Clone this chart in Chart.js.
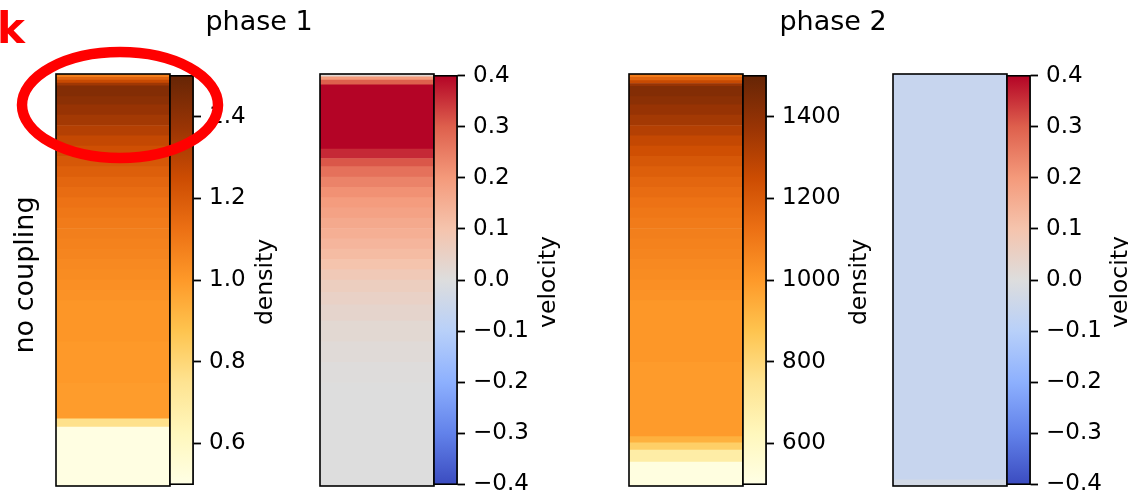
<!doctype html>
<html lang="en">
<head>
  <meta charset="utf-8">
  <title>no coupling: phase 1 / phase 2</title>
  <script src="https://cdn.jsdelivr.net/npm/chart.js@4"></script>
  <style>
    html, body { margin: 0; padding: 0; background: #fff; }
    #fig { position: relative; width: 1128px; height: 497px; overflow: hidden; }
    #fig canvas { position: absolute; }
    #overlay { position: absolute; left: 0; top: 0; pointer-events: none; }
    #overlay text { font-family: 'DejaVu Sans', sans-serif; fill: #000; }
  </style>
</head>
<body>
<div id="fig">
  <svg id="overlay" width="1128" height="497">
    <text x="-3" y="43" font-size="42" font-weight="bold" style="fill:#ff0000">k</text>
    <text x="259" y="30" font-size="27" text-anchor="middle">phase 1</text>
    <text x="833" y="30" font-size="27" text-anchor="middle">phase 2</text>
    <text transform="translate(33,275) rotate(-90)" font-size="27" text-anchor="middle">no coupling</text>
    <text transform="translate(272,282) rotate(-90)" font-size="23.5" text-anchor="middle">density</text>
    <text transform="translate(555,282) rotate(-90)" font-size="23.5" text-anchor="middle">velocity</text>
    <text transform="translate(866,282) rotate(-90)" font-size="23.5" text-anchor="middle">density</text>
    <text transform="translate(1127,282) rotate(-90)" font-size="23.5" text-anchor="middle">velocity</text>
    <ellipse cx="120" cy="105" rx="98" ry="53" fill="none" stroke="#ff0000" stroke-width="10.5"/>
  </svg>
</div>
<script>
  // height along the column, percent from the bottom; one value per cell between two edges
  const density1Edges = [0, 14.3, 16.3, 25, 35, 45, 47.5, 50, 52.5, 55, 57.5, 60, 62.5, 65, 67.5, 70, 72.5, 75, 77.5, 80,
    82.5, 85, 87.5, 90, 92.5, 94.5, 97.1, 97.8, 98.5, 99.2, 100]
  const density1Values = [0.51, 0.76, 0.99, 1.0, 1.01, 1.02, 1.03, 1.04, 1.05, 1.06, 1.07, 1.08, 1.09, 1.105, 1.12,
    1.14, 1.16, 1.185, 1.21, 1.24, 1.27, 1.31, 1.35, 1.38, 1.41, 1.43, 1.36, 1.26, 1.17, 1.08]

  const velocity1Edges = [0, 25, 30, 35, 40, 44, 47, 50, 52.5, 55, 57.5, 60, 62.5, 65, 67.5, 70, 72.5, 75, 77.5, 79.5,
    81.8, 97.4, 98.5, 99.3, 100]
  const velocity1Values = [0.0, 0.005, 0.012, 0.022, 0.035, 0.048, 0.062, 0.08, 0.1, 0.12, 0.135, 0.15, 0.165, 0.18,
    0.195, 0.215, 0.24, 0.27, 0.31, 0.36, 0.4, 0.3, 0.2, 0.02]

  const density2Edges = [0, 5.8, 8.7, 10.5, 12, 30, 45, 47.5, 50, 52.5, 55, 57.5, 60, 62.5, 65, 67.5, 70, 72.5, 75, 77.5,
    80, 82.5, 85, 87.5, 90, 92.5, 94.5, 97, 97.7, 98.4, 99.2, 100]
  const density2Values = [515, 690, 830, 930, 995, 1005, 1020, 1030, 1040, 1050, 1060, 1070, 1080, 1090, 1105, 1120,
    1140, 1160, 1185, 1210, 1240, 1270, 1310, 1350, 1380, 1410, 1430, 1380, 1260, 1170, 1090]

  const velocity2Edges = [0, 1.5, 100]
  const velocity2Values = [-0.03, -0.06]

  const density1Ticks = [0.6, 0.8, 1.0, 1.2, 1.4]
  const density2Ticks = [600, 800, 1000, 1200, 1400]
  const velocityTicks = [-0.4, -0.3, -0.2, -0.1, 0.0, 0.1, 0.2, 0.3, 0.4]

  const YLORBR = ['#ffffe5', '#fff7bc', '#fee391', '#fec44f', '#fe9929', '#ec7014', '#cc4c02', '#993404', '#662506']
  const COOLWARM = ['#3b4cc0', '#6282ea', '#8db0fe', '#b8d0f9', '#dddddd', '#f5c4ad', '#f49a7b', '#de604d', '#b40426']

  Chart.defaults.font.family = "'DejaVu Sans', sans-serif"

  function colormap(hexes) {
    const rgb = hexes.map(h => [1, 3, 5].map(i => parseInt(h.slice(i, i + 2), 16)))
    return t => {
      t = Math.min(1, Math.max(0, t))
      const s = t * (rgb.length - 1)
      const i = Math.min(Math.floor(s), rgb.length - 2)
      const f = s - i
      const c = rgb[i].map((v, k) => Math.round(v + (rgb[i + 1][k] - v) * f))
      return `rgb(${c[0]},${c[1]},${c[2]})`
    }
  }

  const frame = {
    id: 'frame',
    afterDraw(chart) {
      const { ctx, chartArea: a } = chart
      ctx.save()
      ctx.strokeStyle = '#000'
      ctx.lineWidth = 1.6
      ctx.strokeRect(a.left, a.top, a.right - a.left, a.bottom - a.top)
      ctx.restore()
    }
  }

  function addCanvas(left, top, w, h) {
    const c = document.createElement('canvas')
    c.width = w
    c.height = h
    c.style.left = left + 'px'
    c.style.top = top + 'px'
    c.style.width = w + 'px'
    c.style.height = h + 'px'
    document.getElementById('fig').insertBefore(c, document.getElementById('overlay'))
    return c
  }

  const base = {
    responsive: false,
    animation: false,
    devicePixelRatio: 1,
    events: [],
    plugins: { legend: { display: false }, tooltip: { enabled: false } },
  }

  function panel({ left, edges, values, min, max, cmap, ticks, decimals }) {
    const top = 74, stripW = 114, barW = 23, colH = 412, axisW = 80
    const color = colormap(cmap)

    // the field column
    const datasets = values.map((v, i) => ({
      data: [[edges[i], edges[i + 1]]],
      backgroundColor: color((v - min) / (max - min)),
    }))
    new Chart(addCanvas(left - 3, top - 3, stripW + 6, colH + 6), {
      type: 'bar',
      data: { labels: [''], datasets },
      options: {
        ...base,
        layout: { padding: 3 },
        datasets: { bar: { barPercentage: 1, categoryPercentage: 1, grouped: false, borderWidth: 0 } },
        scales: {
          x: { display: false },
          y: { display: false, min: 0, max: 100 },
        },
      },
      plugins: [frame],
    })

    // colorbar
    new Chart(addCanvas(left + stripW - 3, top - 20, 3 + barW + axisW, colH + 40), {
      type: 'bar',
      data: {
        labels: [''],
        datasets: [{
          data: [[min, max]],
          backgroundColor(ctx) {
            const chart = ctx.chart
            if (!chart.chartArea) return null
            const y = chart.scales.y
            const g = chart.ctx.createLinearGradient(0, y.getPixelForValue(min), 0, y.getPixelForValue(max))
            cmap.forEach((c, i) => g.addColorStop(i / (cmap.length - 1), c))
            return g
          },
        }],
      },
      options: {
        ...base,
        layout: { padding: { left: 3, right: 0, top: 20, bottom: 20 } },
        datasets: { bar: { barPercentage: 1, categoryPercentage: 1, borderWidth: 0 } },
        scales: {
          x: { display: false },
          y: {
            position: 'right',
            min, max,
            afterBuildTicks: s => { s.ticks = ticks.map(v => ({ value: v })) },
            afterFit: s => { s.width = axisW },
            ticks: {
              autoSkip: false,
              padding: 8,
              color: '#000',
              font: { size: 23 },
              callback: v => v.toFixed(decimals).replace('-', '\u2212'),
            },
            grid: { drawOnChartArea: false, tickLength: 8, tickWidth: 1.8, tickColor: '#000' },
            border: { display: true, color: '#000', width: 1.6 },
          },
        },
      },
      plugins: [frame],
    })
  }

  panel({ left: 56, edges: density1Edges, values: density1Values, min: 0.5, max: 1.5, cmap: YLORBR, ticks: density1Ticks, decimals: 1 })
  panel({ left: 320, edges: velocity1Edges, values: velocity1Values, min: -0.4, max: 0.4, cmap: COOLWARM, ticks: velocityTicks, decimals: 1 })
  panel({ left: 629, edges: density2Edges, values: density2Values, min: 500, max: 1500, cmap: YLORBR, ticks: density2Ticks, decimals: 0 })
  panel({ left: 893, edges: velocity2Edges, values: velocity2Values, min: -0.4, max: 0.4, cmap: COOLWARM, ticks: velocityTicks, decimals: 1 })
</script>
</body>
</html>
